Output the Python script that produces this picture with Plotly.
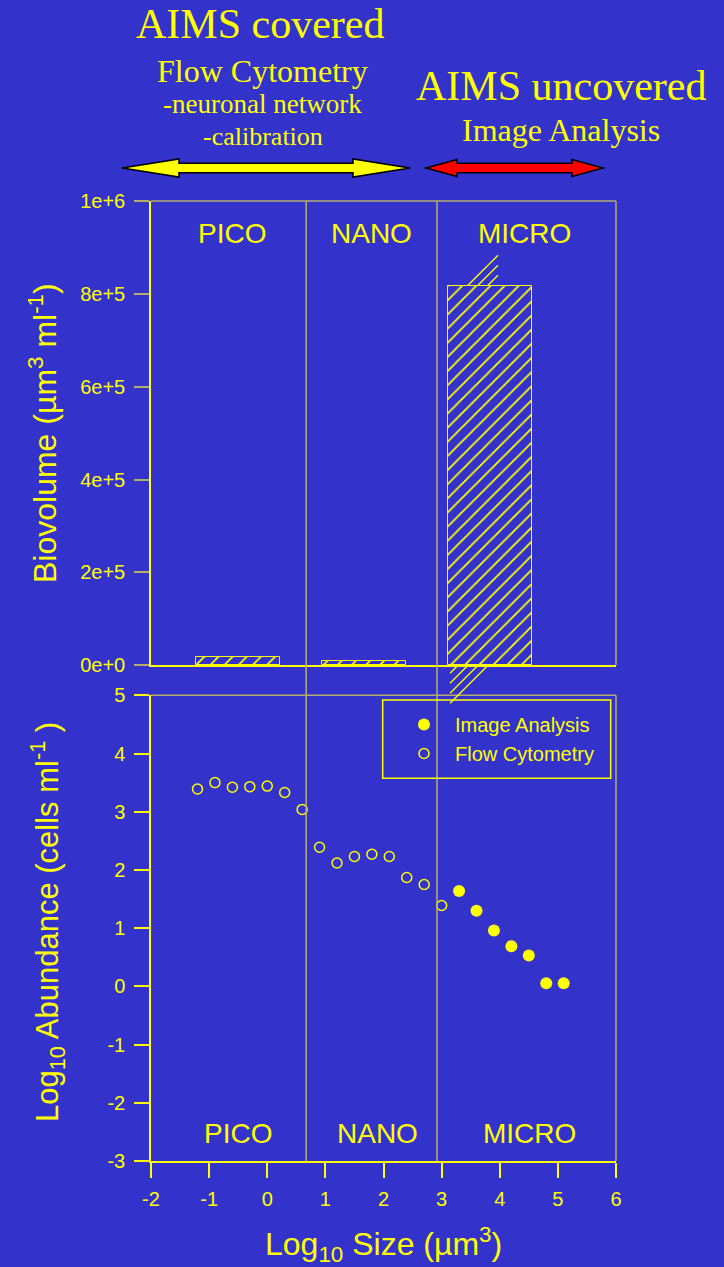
import plotly.graph_objects as go

# ---- data -------------------------------------------------------------
size_classes = ["PICO", "NANO", "MICRO"]
class_bar_x = [-0.5, 1.67, 3.83]          # bar centres on the log10 size axis
class_biovolume = [17000, 9900, 818000]    # µm3 ml-1
class_bounds = [0.67, 2.92]                # PICO|NANO and NANO|MICRO limits

fc_log_size = [-1.2, -0.9, -0.6, -0.3, 0.0, 0.3, 0.6, 0.9, 1.2, 1.5, 1.8, 2.1, 2.4, 2.7, 3.0]
fc_log_abund = [3.39, 3.50, 3.42, 3.43, 3.44, 3.33, 3.04, 2.39, 2.12, 2.23, 2.27, 2.23, 1.87, 1.75, 1.39]

ia_log_size = [3.3, 3.6, 3.9, 4.2, 4.5, 4.8, 5.1]
ia_log_abund = [1.64, 1.30, 0.96, 0.69, 0.53, 0.055, 0.055]

biovol_ticks = [0, 2e5, 4e5, 6e5, 8e5, 1e6]
biovol_ticktext = ["0e+0", "2e+5", "4e+5", "6e+5", "8e+5", "1e+6"]
size_ticks = [-2, -1, 0, 1, 2, 3, 4, 5, 6]
abund_ticks = [-3, -2, -1, 0, 1, 2, 3, 4, 5]

# ---- style -------------------------------------------------------------
BG = "#3333CC"
YEL = "#FFFF00"
GREY = "#B4AE6E"
SANS = "Liberation Sans, Arial, sans-serif"
SERIF = "Liberation Serif, Times New Roman, serif"

W_FIG, H_FIG = 724, 1267
ML, MR, MT, MB = 151, 108, 201, 106
PW = W_FIG - ML - MR
PH = H_FIG - MT - MB
XR = [-2, 6]
TOP_DOM = [(PH - (665.3 - MT)) / PH, 1.0]
BOT_DOM = [0.0, (PH - (695.3 - MT)) / PH]


def px2paper(x):
    return (x - ML) / PW


def py2paper(y):
    return (H_FIG - MB - y) / PH


def xdata2px(x):
    return ML + (x - XR[0]) / (XR[1] - XR[0]) * PW


def ytop2px(v):
    top_px = MT
    bot_px = MT + (1 - TOP_DOM[0]) * PH
    return bot_px - v / 1e6 * (bot_px - top_px)


def hyphen_labels(vals):
    return [str(v).replace("\u2212", "-") for v in vals]


def double_arrow(x0, x1, yc, head, hh, sh):
    pts = [
        (x0, yc), (x0 + head, yc - hh), (x0 + head, yc - sh),
        (x1 - head, yc - sh), (x1 - head, yc - hh), (x1, yc),
        (x1 - head, yc + hh), (x1 - head, yc + sh), (x0 + head, yc + sh),
        (x0 + head, yc + hh),
    ]
    d = "M " + " L ".join(f"{px2paper(a):.5f},{py2paper(b):.5f}" for a, b in pts) + " Z"
    return d


fig = go.Figure()

# biovolume bars (upper panel)
fig.add_trace(go.Bar(
    x=class_bar_x, y=class_biovolume, width=1.44,
    xaxis="x", yaxis="y", showlegend=False,
    marker=dict(color=BG, line=dict(color=YEL, width=1),
                pattern=dict(shape="/", size=10, solidity=0.18,
                             fgcolor=YEL, bgcolor=BG, fillmode="replace")),
    hoverinfo="skip",
))

# size spectra (lower panel)
fig.add_trace(go.Scatter(
    x=ia_log_size, y=ia_log_abund, mode="markers", name="Image Analysis",
    xaxis="x2", yaxis="y2",
    marker=dict(symbol="circle", size=12, color=YEL, line=dict(width=0)),
))
fig.add_trace(go.Scatter(
    x=fc_log_size, y=fc_log_abund, mode="markers", name="Flow Cytometry",
    xaxis="x2", yaxis="y2",
    marker=dict(symbol="circle-open", size=10, color=YEL, line=dict(width=1.5, color=YEL)),
))

shapes = []
# class boundaries running through both panels
for b in class_bounds:
    shapes.append(dict(type="line", xref="x2", yref="paper", x0=b, x1=b, y0=0, y1=1,
                       line=dict(color=GREY, width=1.5), layer="above"))
# frame edges (top and right) of both panels
for xd, yd in (("x domain", "y domain"), ("x2 domain", "y2 domain")):
    shapes.append(dict(type="line", xref=xd, yref=yd, x0=0, x1=1, y0=1, y1=1,
                       line=dict(color=GREY, width=1.5)))
    shapes.append(dict(type="line", xref=xd, yref=yd, x0=1, x1=1, y0=0, y1=1,
                       line=dict(color=GREY, width=1.5)))

# hatch strokes spilling past the tall MICRO bar
bar_left = xdata2px(class_bar_x[2] - 0.72)
bar_top = ytop2px(class_biovolume[2])
bar_bot = ytop2px(0)
for s in (19.7, 29.7, 39.7):
    x_start = bar_left + s
    x_end = bar_left + 50
    shapes.append(dict(type="line", xref="paper", yref="paper",
                       x0=px2paper(x_start), y0=py2paper(bar_top),
                       x1=px2paper(x_end), y1=py2paper(bar_top - (x_end - x_start)),
                       line=dict(color=YEL, width=1.3)))
for s in (8, 18, 28, 38):
    x_end = bar_left + 2
    x_start = x_end + s
    shapes.append(dict(type="line", xref="paper", yref="paper",
                       x0=px2paper(x_start), y0=py2paper(bar_bot),
                       x1=px2paper(x_end), y1=py2paper(bar_bot + s),
                       line=dict(color=YEL, width=1.3)))

# legend frame
shapes.append(dict(type="rect", xref="paper", yref="paper",
                   x0=px2paper(382.7), x1=px2paper(610.7),
                   y0=py2paper(778.3), y1=py2paper(700),
                   line=dict(color=YEL, width=1.5)))

# method range arrows
shapes.append(dict(type="path", xref="paper", yref="paper",
                   path=double_arrow(122, 410, 168, 57, 9, 4.7),
                   fillcolor=YEL, line=dict(color="black", width=1.5)))
shapes.append(dict(type="path", xref="paper", yref="paper",
                   path=double_arrow(426, 603, 168, 31, 8.5, 4.7),
                   fillcolor="#FF0000", line=dict(color="black", width=1.5)))

ann = []


def text(x, y, s, size, family=SANS, angle=0):
    ann.append(dict(x=px2paper(x), y=py2paper(y), xref="paper", yref="paper",
                    text=s, showarrow=False, xanchor="center", yanchor="middle",
                    textangle=angle, font=dict(family=family, size=size, color=YEL)))


text(260, 24, "AIMS covered", 42, SERIF)
text(262, 71, "Flow Cytometry", 32, SERIF)
text(262, 104, "-neuronal network", 27, SERIF)
text(263, 136, "-calibration", 26, SERIF)
text(561, 86, "AIMS uncovered", 42, SERIF)
text(561, 130, "Image Analysis", 32, SERIF)

# class names in each panel
top_lab_x = [-0.61, 1.80, 4.42]
bot_lab_x = [-0.51, 1.90, 4.52]
for name, xt, xb in zip(size_classes, top_lab_x, bot_lab_x):
    ann.append(dict(x=xt, y=py2paper(233), xref="x2", yref="paper", text=name,
                    showarrow=False, xanchor="center", yanchor="middle",
                    font=dict(family=SANS, size=28, color=YEL)))
    ann.append(dict(x=xb, y=py2paper(1133), xref="x2", yref="paper", text=name,
                    showarrow=False, xanchor="center", yanchor="middle",
                    font=dict(family=SANS, size=28, color=YEL)))

# axis titles
text(43, 433, "Biovolume (µm<sup>3</sup> ml<sup>-1</sup>)", 32, SANS, -90)
text(47, 922, "Log<sub>10</sub> Abundance (cells ml<sup>-1</sup> )", 31, SANS, -90)
text(383, 1244, "Log<sub>10</sub> Size (µm<sup>3</sup>)", 32, SANS)

tickfont = dict(family=SANS, size=20, color=YEL)

fig.update_layout(
    width=W_FIG, height=H_FIG,
    margin=dict(l=ML, r=MR, t=MT, b=MB, pad=0),
    paper_bgcolor=BG, plot_bgcolor=BG,
    font=dict(family=SANS, color=YEL),
    shapes=shapes, annotations=ann,
    bargap=0,
    xaxis=dict(domain=[0, 1], anchor="y", range=XR, showgrid=False, zeroline=False,
               showticklabels=False, ticks="", showline=True, linecolor=YEL, linewidth=1.5),
    yaxis=dict(domain=TOP_DOM, anchor="x", range=[0, 1e6], showgrid=False, zeroline=False,
               tickvals=biovol_ticks, ticktext=biovol_ticktext, ticks="outside",
               ticklen=15, tickwidth=1.5, tickcolor=GREY, tickfont=tickfont,
               ticklabelstandoff=5,
               showline=True, linecolor=YEL, linewidth=1.5),
    xaxis2=dict(domain=[0, 1], anchor="y2", range=XR, showgrid=False, zeroline=False,
                tickvals=size_ticks, ticktext=hyphen_labels(size_ticks),
                ticks="outside", ticklen=15, tickwidth=1.5,
                tickcolor=YEL, tickfont=tickfont, ticklabelstandoff=4,
                showline=True, linecolor=YEL, linewidth=1.5),
    yaxis2=dict(domain=BOT_DOM, anchor="x2", range=[-3, 5], showgrid=False, zeroline=False,
                tickvals=abund_ticks, ticktext=hyphen_labels(abund_ticks),
                ticks="outside", ticklen=15, tickwidth=1.5,
                tickcolor=YEL, tickfont=tickfont, ticklabelstandoff=5,
                showline=True, linecolor=YEL, linewidth=1.5),
    legend=dict(x=px2paper(393), y=py2paper(705), xanchor="left", yanchor="top",
                bgcolor="rgba(0,0,0,0)", borderwidth=0, itemwidth=52,
                font=dict(family=SANS, size=20, color=YEL), tracegroupgap=0),
    showlegend=True,
)

fig.write_html("out.html")
